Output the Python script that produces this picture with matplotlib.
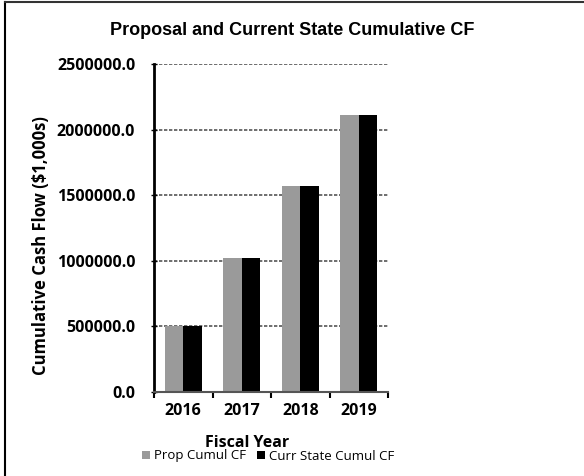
import numpy as np
import matplotlib.pyplot as plt
from matplotlib.lines import Line2D

years = ['2016', '2017', '2018', '2019']
prop_cumul = [505000, 1025000, 1570000, 2110000]
curr_cumul = [505000, 1025000, 1570000, 2110000]
y_ticks = [0, 500000, 1000000, 1500000, 2000000, 2500000]

fig = plt.figure(figsize=(5.84, 4.76), dpi=100)
ax = fig.add_axes([0.2637, 0.1765, 0.4007, 0.689])

x = np.arange(len(years))
w = 0.32
ax.bar(x - w / 2, prop_cumul, w, color='#9a9a9a', label='Prop Cumul CF')
ax.bar(x + w / 2, curr_cumul, w, color='black', label='Curr State Cumul CF')

ax.set_xlim(-0.5, len(years) - 0.5)
ax.set_ylim(0, 2500000)
ax.set_yticks(y_ticks)
ax.set_yticklabels([f'{v:.1f}' for v in y_ticks], fontfamily='Open Sans',
                   fontsize=11.5, fontweight='bold')
ax.set_xticks(x)
ax.set_xticklabels(years, fontfamily='Open Sans', fontsize=11.5, fontweight='bold')
ax.set_xticks(np.arange(len(years) + 1) - 0.5, minor=True)
ax.tick_params(axis='x', which='major', length=0, pad=8)
ax.tick_params(axis='x', which='minor', length=4, width=1.5, direction='out')
ax.tick_params(axis='y', length=5, width=1, direction='inout', pad=11)

ax.yaxis.grid(True, color='#555555', linestyle=(0, (2, 1)), linewidth=1.2)
ax.set_axisbelow(True)
for s in ['top', 'right']:
    ax.spines[s].set_visible(False)
ax.spines['left'].set_linewidth(2)
ax.spines['bottom'].set_color('#555555')
ax.spines['bottom'].set_linewidth(1.5)

ax.set_ylabel('Cumulative Cash Flow ($1,000s)', fontfamily='Open Sans',
              fontsize=12, fontweight='bold')
ax.yaxis.set_label_coords(-0.445, 0.445)
ax.set_xlabel('Fiscal Year', fontfamily='Open Sans', fontsize=11.5, fontweight='bold')
ax.xaxis.set_label_coords(0.40, -0.13)

fig.text(0.5, 0.935, 'Proposal and Current State Cumulative CF',
         ha='center', va='center', fontfamily='Liberation Sans',
         fontsize=13, fontweight='bold')

fig.legend(loc='center', bbox_to_anchor=(268 / 584, 1 - 456 / 476), ncol=2,
           frameon=False, handlelength=0.6, handleheight=0.6, handletextpad=0.3,
           columnspacing=0.8, prop={'family': 'Open Sans', 'size': 9.5})

# frame round the chart
fig.add_artist(Line2D([0.008, 0.008], [0.0, 0.996], color='black', lw=1.5,
                      transform=fig.transFigure))
fig.add_artist(Line2D([0.008, 1.0], [0.996, 0.996], color='#333333', lw=1.5,
                      transform=fig.transFigure))

fig.savefig('out.png', dpi=100)
